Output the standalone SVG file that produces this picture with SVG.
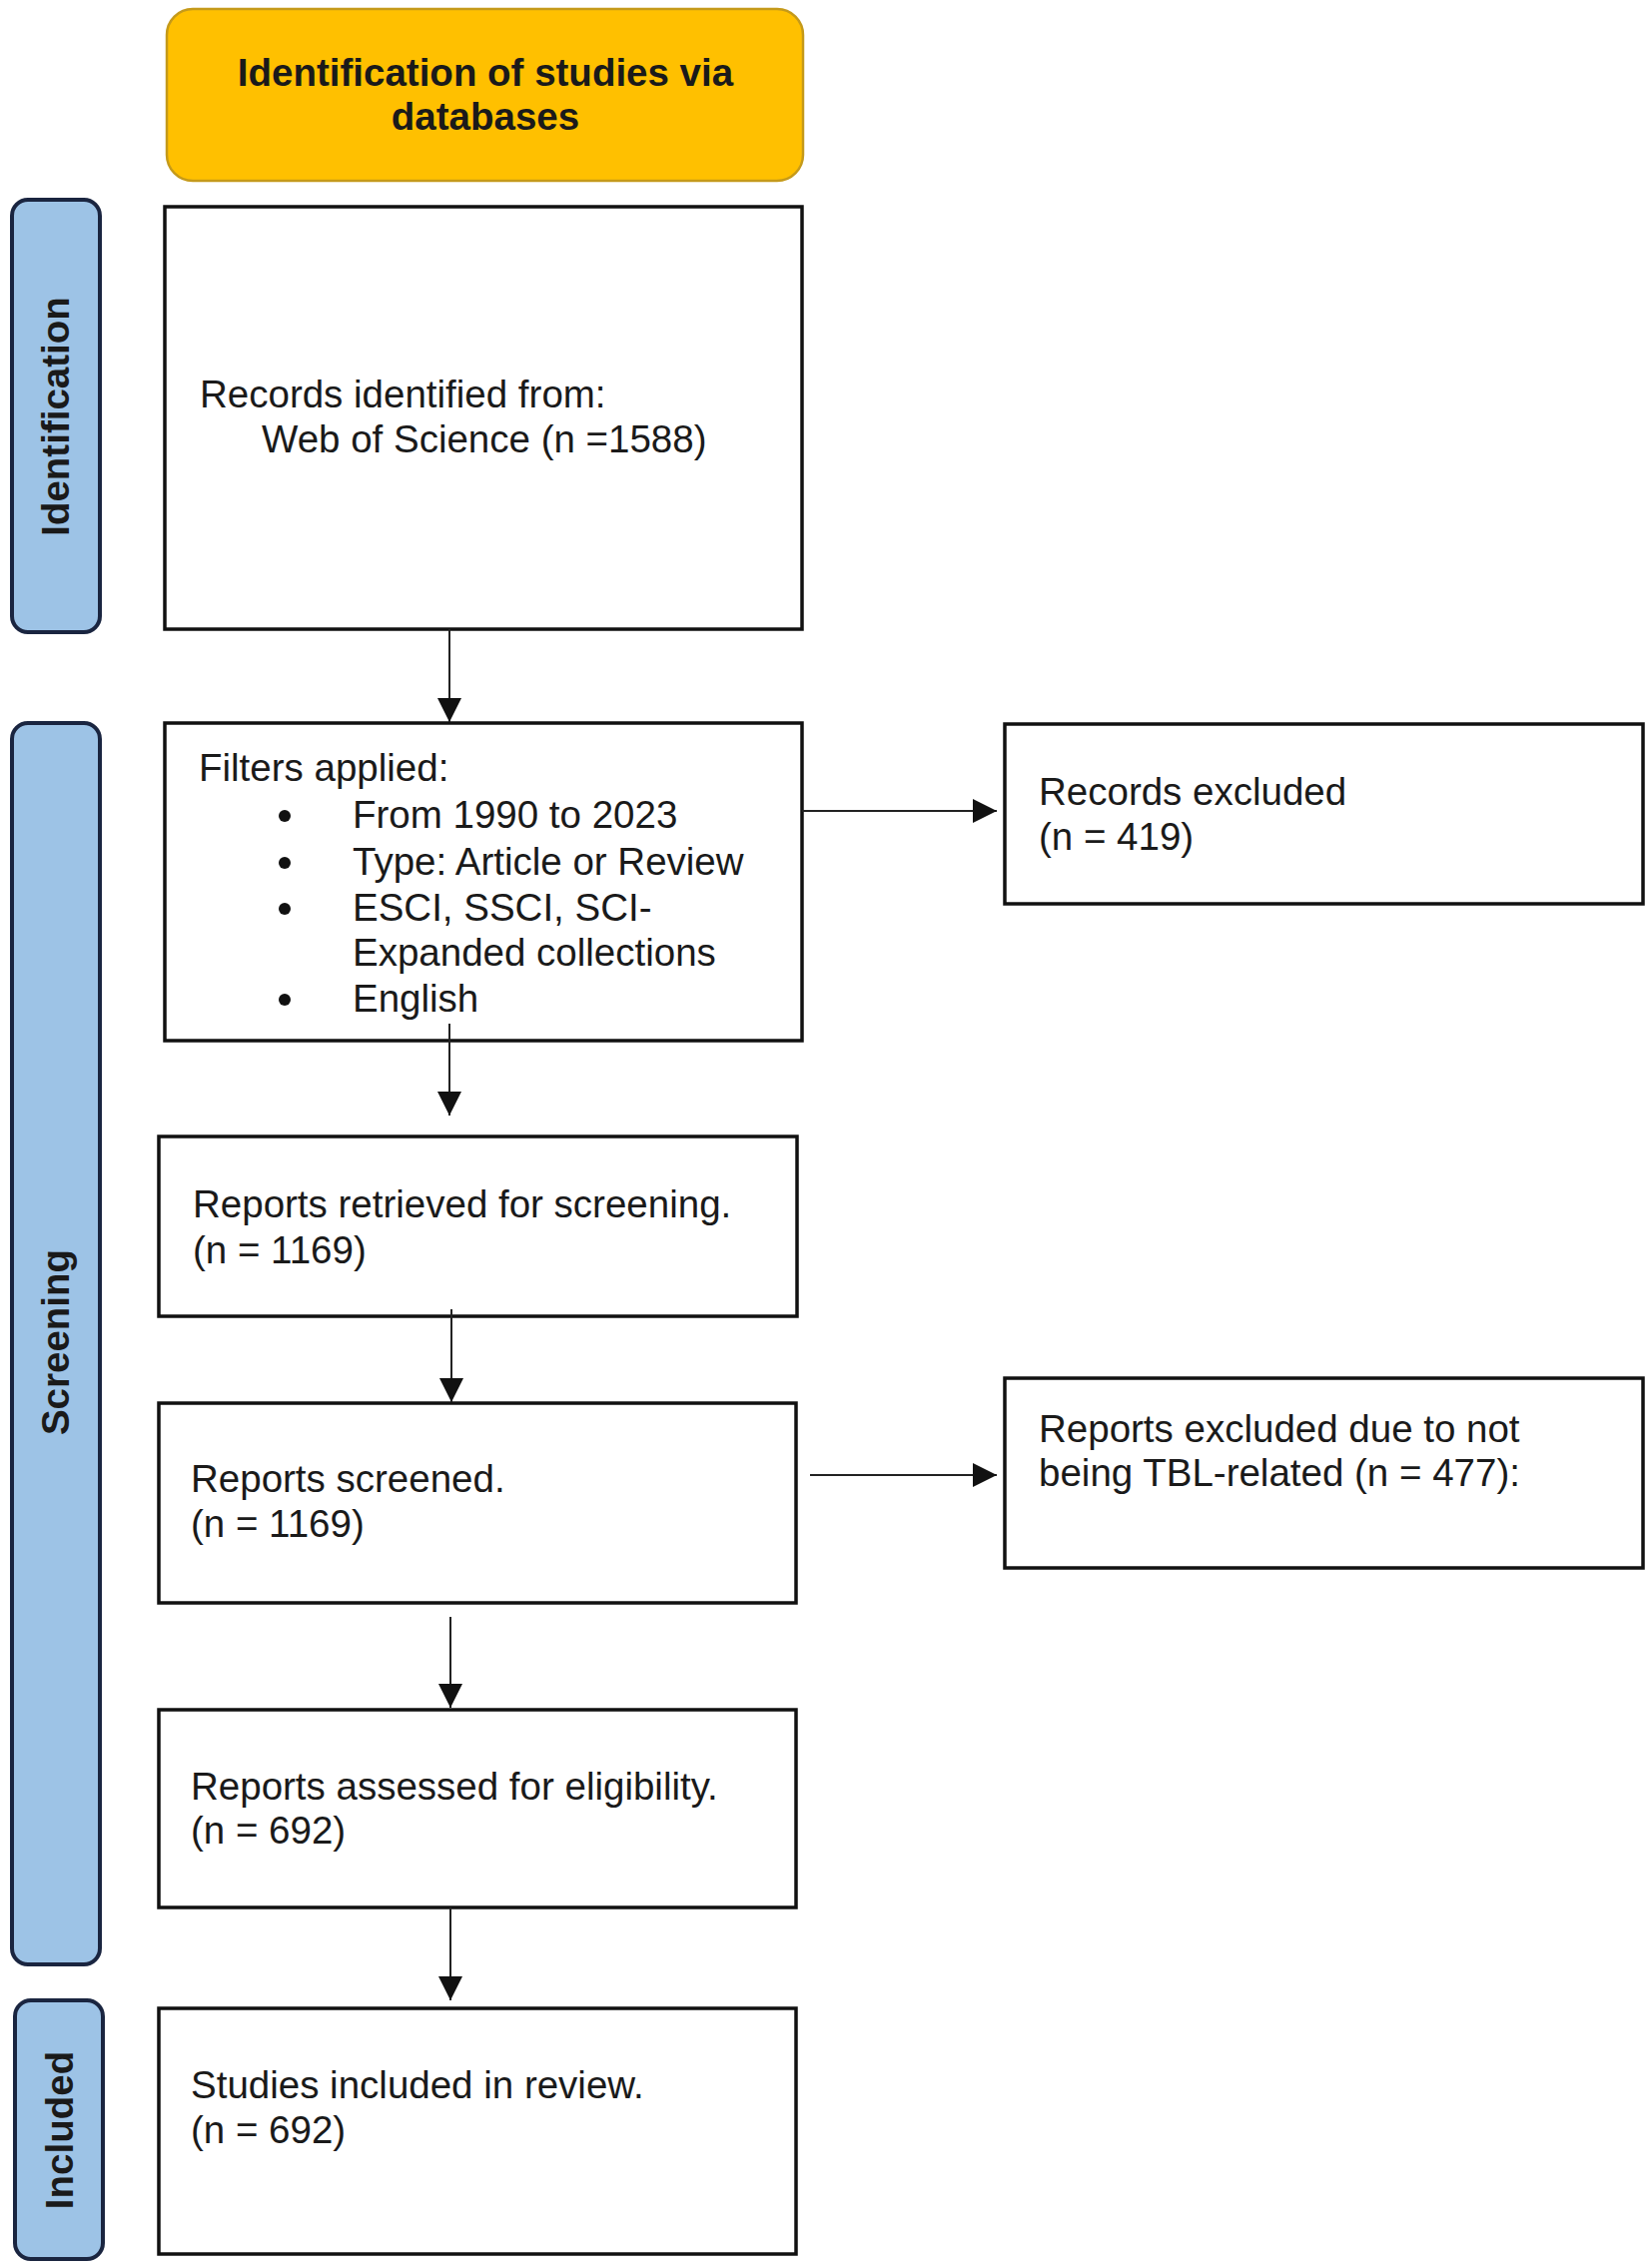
<svg xmlns="http://www.w3.org/2000/svg" width="1653" height="2271" viewBox="0 0 1653 2271">
<style>
.box{fill:#fff;stroke:#111;stroke-width:3.5}
.side{fill:#9DC3E6;stroke:#1a2540;stroke-width:4}
.hdr{fill:#FFC000;stroke:#C59A1A;stroke-width:2.5}
.t{font-family:"Liberation Sans",Arial,sans-serif;font-size:38.5px;fill:#1a1a1a}
.b{font-family:"Liberation Sans",Arial,sans-serif;font-size:38.5px;font-weight:bold;fill:#1a1a1a}
.c{stroke:#222;stroke-width:2;fill:none}
</style>
<defs>
<marker id="ah" markerWidth="24" markerHeight="24" refX="24" refY="12" orient="auto" markerUnits="userSpaceOnUse">
<path d="M0,0 L24,12 L0,24 z" fill="#111"/>
</marker>
</defs>
<rect width="1653" height="2271" fill="#fff"/>

<g id="header">
<rect class="hdr" x="167" y="9" width="637" height="172" rx="26"/>
<text class="b" x="486" y="86" text-anchor="middle">Identification of studies via</text>
<text class="b" x="486" y="130" text-anchor="middle">databases</text>
</g>

<g id="side-identification">
<rect class="side" x="12" y="200" width="88" height="433" rx="16"/>
<text class="b" transform="translate(69,417) rotate(-90)" text-anchor="middle">Identification</text>
</g>

<g id="side-screening">
<rect class="side" x="12" y="724" width="88" height="1243" rx="16"/>
<text class="b" transform="translate(69,1344) rotate(-90)" text-anchor="middle">Screening</text>
</g>

<g id="side-included">
<rect class="side" x="15" y="2003" width="88" height="259" rx="16"/>
<text class="b" transform="translate(73,2133) rotate(-90)" text-anchor="middle">Included</text>
</g>

<g id="records-identified">
<rect class="box" x="165" y="207" width="638" height="423"/>
<text class="t" x="200" y="408">Records identified from:</text>
<text class="t" x="262" y="453">Web of Science (n =1588)</text>
</g>

<g id="filters">
<rect class="box" x="165" y="724" width="638" height="318"/>
<text class="t" x="199" y="782">Filters applied:</text>
<circle cx="285" cy="817" r="6" fill="#111"/>
<text class="t" x="353" y="829">From 1990 to 2023</text>
<circle cx="285" cy="864" r="6" fill="#111"/>
<text class="t" x="353" y="876">Type: Article or Review</text>
<circle cx="285" cy="910" r="6" fill="#111"/>
<text class="t" x="353" y="922">ESCI, SSCI, SCI-</text>
<text class="t" x="353" y="967">Expanded collections</text>
<circle cx="285" cy="1001" r="6" fill="#111"/>
<text class="t" x="353" y="1013">English</text>
</g>

<g id="records-excluded">
<rect class="box" x="1006" y="725" width="639" height="180"/>
<text class="t" x="1040" y="806">Records excluded</text>
<text class="t" x="1040" y="851">(n = 419)</text>
</g>

<g id="reports-retrieved">
<rect class="box" x="159" y="1138" width="639" height="180"/>
<text class="t" x="193" y="1219">Reports retrieved for screening.</text>
<text class="t" x="193" y="1265">(n = 1169)</text>
</g>

<g id="reports-screened">
<rect class="box" x="159" y="1405" width="638" height="200"/>
<text class="t" x="191" y="1494">Reports screened.</text>
<text class="t" x="191" y="1539">(n = 1169)</text>
</g>

<g id="reports-excluded">
<rect class="box" x="1006" y="1380" width="639" height="190"/>
<text class="t" x="1040" y="1444">Reports excluded due to not</text>
<text class="t" x="1040" y="1488">being TBL-related (n = 477):</text>
</g>

<g id="reports-assessed">
<rect class="box" x="159" y="1712" width="638" height="198"/>
<text class="t" x="191" y="1802">Reports assessed for eligibility.</text>
<text class="t" x="191" y="1846">(n = 692)</text>
</g>

<g id="studies-included">
<rect class="box" x="159" y="2011" width="638" height="246"/>
<text class="t" x="191" y="2101">Studies included in review.</text>
<text class="t" x="191" y="2146">(n = 692)</text>
</g>

<g id="connectors">
<line class="c" x1="450" y1="630" x2="450" y2="723" marker-end="url(#ah)"/>
<line class="c" x1="803" y1="812" x2="998" y2="812" marker-end="url(#ah)"/>
<line class="c" x1="450" y1="1025" x2="450" y2="1117" marker-end="url(#ah)"/>
<line class="c" x1="452" y1="1311" x2="452" y2="1404" marker-end="url(#ah)"/>
<line class="c" x1="811" y1="1477" x2="998" y2="1477" marker-end="url(#ah)"/>
<line class="c" x1="451" y1="1619" x2="451" y2="1710" marker-end="url(#ah)"/>
<line class="c" x1="451" y1="1910" x2="451" y2="2003" marker-end="url(#ah)"/>
</g>
</svg>
